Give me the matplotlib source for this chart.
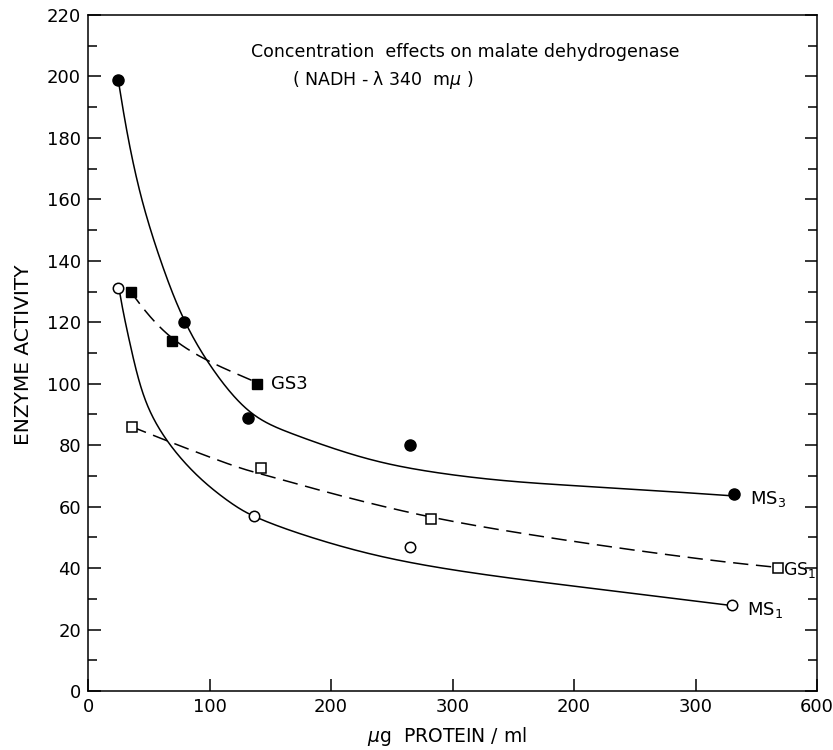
import numpy as np
import matplotlib
matplotlib.use("Agg")
import matplotlib.pyplot as plt
from matplotlib.ticker import MultipleLocator, FixedLocator, FixedFormatter

plt.rcParams['font.family'] = ['DejaVu Sans']

# measured points (ug protein/ml, enzyme activity)
ms3_x = [25, 79, 132, 265, 532]
ms3_y = [199, 120, 89, 80, 64]
ms1_x = [25, 137, 265, 530]
ms1_y = [131, 57, 47, 28]
gs3_x = [35, 69, 139]
gs3_y = [130, 114, 100]
gs1_x = [36, 142, 282, 568]
gs1_y = [86, 72.5, 56, 40]

# hand-drawn fit lines
ms3_fit_x = [25, 32.4, 44.2, 62, 79, 101.8, 132.8, 166, 213, 254, 309, 364, 438, 531]
ms3_fit_y = [198.6, 180.4, 158.7, 137, 119.8, 104.5, 89.3, 83.9, 77.3, 73, 69.7, 67.6, 66, 63.5]
ms1_fit_x = [25.5, 29.1, 35.1, 41.4, 50.5, 67.5, 92.2, 121, 137.4, 172, 227, 282, 350, 438, 530]
ms1_fit_y = [131, 122.9, 112, 101.2, 90.4, 79.5, 68.7, 60, 56.5, 51.3, 44.8, 40.4, 36.5, 32.3, 27.8]
gs3_fit_x = [35, 50, 69, 94, 121, 139]
gs3_fit_y = [130, 122, 114.4, 108.2, 103.4, 100.4]
gs1_fit_x = [36, 70, 127, 142, 199, 282, 364, 438, 520, 568]
gs1_fit_y = [86, 80.6, 72.1, 70.8, 64.3, 56.2, 50.8, 46.4, 42.1, 40.2]

x_tick_pos = [0, 100, 200, 300, 400, 500, 600]
x_tick_labels = ["0", "100", "200", "300", "200", "300", "600"]


def smooth(xs, ys, n=30):
    # clamped cubic B-spline with the traced points as control points
    sx, sy = 1.215, 3.07
    p = np.column_stack([np.array(xs) * sx, np.array(ys) * sy])
    q = np.vstack([p[0], p[0], p, p[-1], p[-1]])
    t = np.linspace(0, 1, n)[:, None]
    b0 = (1 - t) ** 3 / 6
    b1 = (3 * t ** 3 - 6 * t ** 2 + 4) / 6
    b2 = (-3 * t ** 3 + 3 * t ** 2 + 3 * t + 1) / 6
    b3 = t ** 3 / 6
    segs = [b0 * q[i] + b1 * q[i + 1] + b2 * q[i + 2] + b3 * q[i + 3]
            for i in range(len(q) - 3)]
    c = np.vstack(segs)
    return c[:, 0] / sx, c[:, 1] / sy


fig = plt.figure(figsize=(8.33, 7.5), dpi=100)
ax = fig.add_axes([88 / 833, 59 / 750, 729 / 833, 676 / 750])

lw = 1.1
dash = (0, (10, 5))

fx, fy = smooth(ms3_fit_x, ms3_fit_y)
ax.plot(fx, fy, color='black', lw=lw)
fx, fy = smooth(ms1_fit_x, ms1_fit_y)
ax.plot(fx, fy, color='black', lw=lw)
fx, fy = smooth(gs3_fit_x, gs3_fit_y)
ax.plot(fx, fy, color='black', lw=lw, linestyle=dash)
fx, fy = smooth(gs1_fit_x, gs1_fit_y)
ax.plot(fx, fy, color='black', lw=lw, linestyle=dash)

ax.plot(ms3_x, ms3_y, 'o', ms=8, mfc='black', mec='black', zorder=5)
ax.plot(ms1_x, ms1_y, 'o', ms=7.5, mfc='white', mec='black', mew=1.1, zorder=5)
ax.plot(gs3_x, gs3_y, 's', ms=7.5, mfc='black', mec='black', zorder=5)
ax.plot(gs1_x, gs1_y, 's', ms=7.5, mfc='white', mec='black', mew=1.1, zorder=5)

ax.text(151, 100, "GS3", fontsize=13, va='center', ha='left')
ax.text(545, 62.5, "MS$_3$", fontsize=13, va='center', ha='left')
ax.text(542, 26.5, "MS$_1$", fontsize=13, va='center', ha='left')
ax.text(572, 39.5, "GS$_1$", fontsize=12.5, va='center', ha='left')

ax.text(134, 208, "Concentration  effects on malate dehydrogenase",
        fontsize=12.5, ha='left', va='center')
ax.text(168, 199, "( NADH - λ 340  m$\\mu$ )", fontsize=12.5, ha='left', va='center')

ax.set_xlim(0, 600)
ax.set_ylim(0, 220)
ax.xaxis.set_major_locator(FixedLocator(x_tick_pos))
ax.xaxis.set_major_formatter(FixedFormatter(x_tick_labels))
ax.yaxis.set_major_locator(MultipleLocator(20))
ax.yaxis.set_minor_locator(MultipleLocator(10))

ax.tick_params(axis='both', which='major', direction='in', length=9, width=1.1,
               labelsize=13, pad=5)
ax.tick_params(axis='y', which='minor', direction='in', length=6.5, width=1.1)
ax.tick_params(axis='y', which='both', right=True)
ax.tick_params(axis='x', top=False)
for s in ax.spines.values():
    s.set_linewidth(1.1)

fig.text(24 / 833, 1 - 355 / 750, "ENZYME ACTIVITY", fontsize=14.5,
         rotation=90, ha='center', va='center')
fig.text(447 / 833, 1 - 736 / 750, "$\\mu$g  PROTEIN / ml", fontsize=13.5,
         ha='center', va='center')

fig.savefig("out.png", dpi=100)
